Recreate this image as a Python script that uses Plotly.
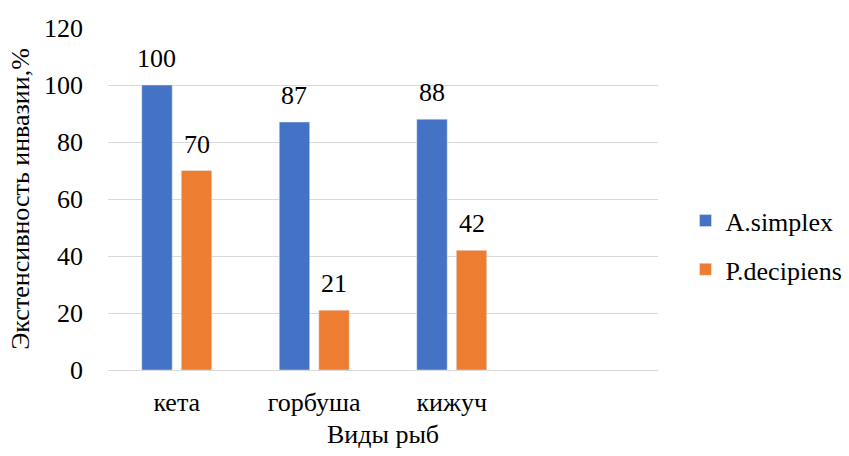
import plotly.graph_objects as go

categories = ["кета", "горбуша", "кижуч"]
a_simplex = [100, 87, 88]
p_decipiens = [70, 21, 42]
series_names = ["A.simplex", "P.decipiens"]
y_ticks = [0, 20, 40, 60, 80, 100, 120]

FONT = "Times New Roman, Tinos, Liberation Serif, DejaVu Serif, serif"
FS = 26
BLACK = "#000000"
W, H = 849, 456
ML, MR, MT, MB = 108, 191, 28, 86
N_SLOTS = 4
BARGAP, GROUPGAP = 0.425, 0.23

fig = go.Figure()
fig.add_trace(go.Bar(
    x=categories, y=a_simplex, name=series_names[0],
    marker_color="#4472C4", legendgroup="a",
))
fig.add_trace(go.Bar(
    x=categories, y=p_decipiens, name=series_names[1],
    marker_color="#ED7D31", legendgroup="b",
))

# data labels above bars
slot_px = (W - ML - MR) / N_SLOTS * (1 - BARGAP) / 2
annotations = []
for vals, sign in ((a_simplex, -1), (p_decipiens, 1)):
    for c, v in zip(categories, vals):
        annotations.append(dict(
            x=c, y=v, text=str(v), showarrow=False, xref="x", yref="y",
            xanchor="center", yanchor="bottom", xshift=sign * slot_px / 2, yshift=10,
            font=dict(size=FS, family=FONT, color=BLACK),
        ))

fig.update_layout(
    width=W, height=H,
    margin=dict(l=ML, r=MR, t=MT, b=MB, autoexpand=False),
    paper_bgcolor="white", plot_bgcolor="white",
    font=dict(family=FONT, size=FS, color=BLACK),
    barmode="group", bargap=BARGAP, bargroupgap=GROUPGAP,
    showlegend=True,
    annotations=annotations,
    legend=dict(x=1.05, y=0.365, xanchor="left", yanchor="middle",
                font=dict(size=FS, family=FONT, color=BLACK), tracegroupgap=12,
                itemwidth=30),
    xaxis=dict(
        type="category", range=[-0.5, N_SLOTS - 0.5], automargin=False,
        showgrid=False, showline=False, ticks="", ticklabelstandoff=14,
        tickfont=dict(size=FS, family=FONT, color=BLACK),
        title=dict(text="Виды рыб", font=dict(size=FS, family=FONT, color=BLACK), standoff=8),
    ),
    yaxis=dict(
        range=[0, 120], tickvals=y_ticks, showgrid=True, gridcolor="#D9D9D9",
        gridwidth=1, zeroline=True, zerolinecolor="#D9D9D9", zerolinewidth=1,
        showline=False, ticks="", ticklabelstandoff=24, automargin=False,
        tickfont=dict(size=FS, family=FONT, color=BLACK),
        title=dict(text="Экстенсивность инвазии,%", font=dict(size=FS, family=FONT, color=BLACK), standoff=6),
    ),
)

fig.write_html("out.html")
